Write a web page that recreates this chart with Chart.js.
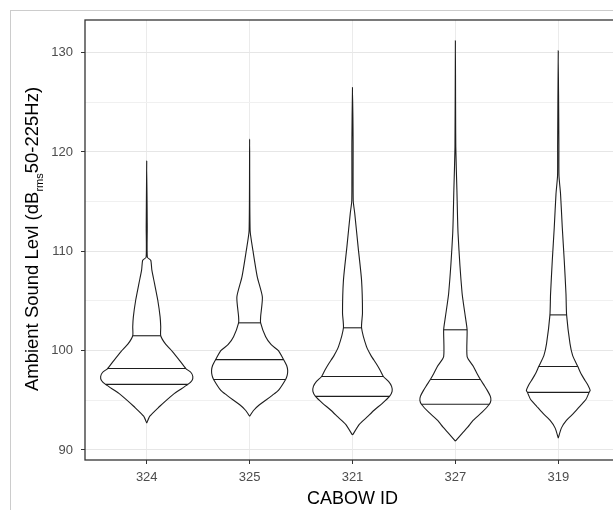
<!DOCTYPE html>
<html>
<head>
<meta charset="utf-8">
<script src="https://cdn.jsdelivr.net/npm/chart.js@4/dist/chart.umd.min.js"></script>
<style>
html,body{margin:0;padding:0;background:#fff;overflow:hidden;width:613px;height:510px}
#frame{position:absolute;left:10px;top:10px;width:700px;height:600px;border-left:1px solid #cccccc;border-top:1px solid #cccccc}
#wrap{position:absolute;left:0;top:0;width:640px;height:510px}
</style>
</head>
<body>
<div id="frame"></div>
<div id="wrap"><canvas id="c" width="640" height="510"></canvas></div>
<script>
// ---- data ----
const categories = ['324', '325', '321', '327', '319'];
const yTickLabels = [90, 100, 110, 120, 130];

// violin outlines: sound level (dB) and half-width (category units) at that level
const levels324 = [92.7, 93.4, 94.4, 95.0, 95.7, 96.6, 97.0, 97.4, 97.8, 98.2, 99.0, 99.9, 100.7, 101.5, 102.4, 103.4, 105.1, 106.8, 108.1, 109.1, 109.4, 112.4, 119.1];
const widths324 = [0, 0.03, 0.127, 0.19, 0.27, 0.40, 0.44, 0.448, 0.43, 0.38, 0.32, 0.25, 0.18, 0.136, 0.136, 0.13, 0.107, 0.075, 0.05, 0.039, 0.006, 0.005, 0];

const levels325 = [93.4, 94.0, 94.5, 95.0, 95.5, 96.0, 97.1, 97.5, 98.0, 98.5, 99.1, 100.0, 100.6, 101.4, 102.8, 103.4, 105.4, 107.4, 110.1, 112.1, 121.3];
const widths325 = [0, 0.04, 0.09, 0.156, 0.22, 0.28, 0.35, 0.365, 0.37, 0.36, 0.33, 0.28, 0.21, 0.156, 0.107, 0.107, 0.124, 0.075, 0.032, 0.005, 0];

const levels321 = [91.5, 92.6, 93.3, 94.0, 94.7, 95.4, 95.9, 96.4, 96.9, 97.4, 98.0, 98.7, 99.5, 100.4, 102.3, 103.8, 107.1, 110.4, 113.8, 115.1, 121.0, 126.5];
const widths321 = [0, 0.068, 0.14, 0.21, 0.29, 0.36, 0.385, 0.38, 0.35, 0.30, 0.27, 0.23, 0.18, 0.136, 0.088, 0.097, 0.088, 0.055, 0.022, 0.007, 0.006, 0];

const levels327 = [90.9, 91.7, 92.3, 93.0, 93.8, 94.6, 95.0, 95.4, 96.0, 96.5, 97.1, 97.7, 98.4, 99.4, 102.1, 103.4, 105.8, 111.8, 116.1, 120.5, 131.2];
const widths327 = [0, 0.068, 0.12, 0.175, 0.26, 0.33, 0.345, 0.34, 0.31, 0.28, 0.243, 0.21, 0.175, 0.114, 0.114, 0.097, 0.065, 0.026, 0.015, 0.004, 0];

const levels319 = [91.2, 92.2, 93.0, 93.7, 94.4, 95.1, 95.8, 96.0, 96.5, 97.0, 97.7, 98.4, 99.5, 100.7, 103.6, 105.7, 109.1, 112.4, 115.8, 117.6, 120.8, 130.2];
const widths319 = [0, 0.03, 0.081, 0.15, 0.21, 0.27, 0.30, 0.31, 0.29, 0.26, 0.22, 0.19, 0.14, 0.114, 0.081, 0.075, 0.058, 0.039, 0.022, 0.007, 0.006, 0];

// quartile lines (25 %, 50 %, 75 %) and their half-widths
const q25 = [96.6, 97.1, 95.4, 94.6, 95.8];
const q50 = [98.2, 99.1, 97.4, 97.1, 98.4];
const q75 = [101.5, 102.8, 102.3, 102.1, 103.6];
const q25Width = [0.40, 0.35, 0.36, 0.33, 0.30];
const q50Width = [0.38, 0.33, 0.30, 0.243, 0.19];
const q75Width = [0.136, 0.107, 0.088, 0.114, 0.081];

// ---- build datasets ----
const violinLevels = [levels324, levels325, levels321, levels327, levels319];
const violinWidths = [widths324, widths325, widths321, widths327, widths319];
const LINE = '#1e1e1e';

const datasets = [];
violinLevels.forEach((lv, i) => {
  const cx = i + 1;
  const wd = violinWidths[i];
  const pts = [];
  for (let k = 0; k < lv.length; k++) pts.push({x: cx + wd[k], y: lv[k]});
  for (let k = lv.length - 2; k >= 0; k--) pts.push({x: cx - wd[k], y: lv[k]});
  datasets.push({
    data: pts, showLine: true, pointRadius: 0, borderColor: LINE, borderWidth: 1.1,
    backgroundColor: '#ffffff', fill: 'shape', tension: 0.2, order: 2
  });
});
[[q25, q25Width], [q50, q50Width], [q75, q75Width]].forEach(([q, w]) => {
  q.forEach((v, i) => {
    datasets.push({
      data: [{x: i + 1 - w[i], y: v}, {x: i + 1 + w[i], y: v}],
      showLine: true, pointRadius: 0, borderColor: LINE, borderWidth: 1.1, fill: false, order: 1
    });
  });
});

const FONT = "'Liberation Sans', Arial, sans-serif";

const panelPlugin = {
  id: 'panel',
  afterDraw(chart) {
    const {ctx, chartArea: a} = chart;
    ctx.save();
    ctx.strokeStyle = '#333333';
    ctx.lineWidth = 1.3;
    ctx.strokeRect(a.left, a.top, a.right - a.left, a.bottom - a.top);
    // y axis title with subscript
    ctx.translate(38, 239);
    ctx.rotate(-Math.PI / 2);
    ctx.fillStyle = '#000';
    const p1 = 'Ambient Sound Levl (dB', sub = 'rms', p2 = '50-225Hz)';
    ctx.font = '18.5px ' + FONT;
    const w1 = ctx.measureText(p1).width, w3 = ctx.measureText(p2).width;
    ctx.font = '11px ' + FONT;
    const w2 = ctx.measureText(sub).width;
    const total = w1 + w2 + w3;
    let x = -total / 2;
    ctx.textBaseline = 'alphabetic';
    ctx.textAlign = 'left';
    ctx.font = '18.5px ' + FONT;
    ctx.fillText(p1, x, 0); x += w1;
    ctx.font = '11px ' + FONT;
    ctx.fillText(sub, x, 5); x += w2;
    ctx.font = '18.5px ' + FONT;
    ctx.fillText(p2, x, 0);
    ctx.restore();
  }
};

new Chart(document.getElementById('c'), {
  type: 'scatter',
  data: {datasets},
  plugins: [panelPlugin],
  options: {
    responsive: false,
    animation: false,
    events: [],
    layout: {padding: {top: 20, right: 20, left: 0, bottom: 0}},
    plugins: {legend: {display: false}, tooltip: {enabled: false}, title: {display: false}},
    scales: {
      x: {
        type: 'linear', min: 0.4, max: 5.6,
        afterFit(s) { s.height = 50; },
        ticks: {
          stepSize: 1, includeBounds: false, autoSkip: false, maxRotation: 0,
          color: '#4d4d4d', font: {family: FONT, size: 13}, padding: 6,
          callback: v => categories[Math.round(v) - 1] || ''
        },
        grid: {color: '#ebebeb', lineWidth: 1, tickLength: 4, tickColor: '#333333', drawTicks: true},
        border: {display: false},
        title: {display: true, text: 'CABOW ID', color: '#000', font: {family: FONT, size: 18}, padding: {top: 0, bottom: 0}}
      },
      y: {
        type: 'linear', min: 88.99, max: 133.29,
        afterFit(s) { s.width = 85; },
        ticks: {
          stepSize: 5, includeBounds: false,
          color: '#4d4d4d', font: {family: FONT, size: 13}, padding: 8,
          callback: v => yTickLabels.includes(v) ? String(v) : ''
        },
        grid: {
          color: c => (c.tick && c.tick.value % 10 === 0) ? '#e6e6e6' : '#f0f0f0',
          lineWidth: 1, tickLength: 4,
          tickColor: c => (c.tick && c.tick.value % 10 === 0) ? '#333333' : 'rgba(0,0,0,0)'
        },
        border: {display: false}
      }
    }
  }
});
</script>
</body>
</html>
